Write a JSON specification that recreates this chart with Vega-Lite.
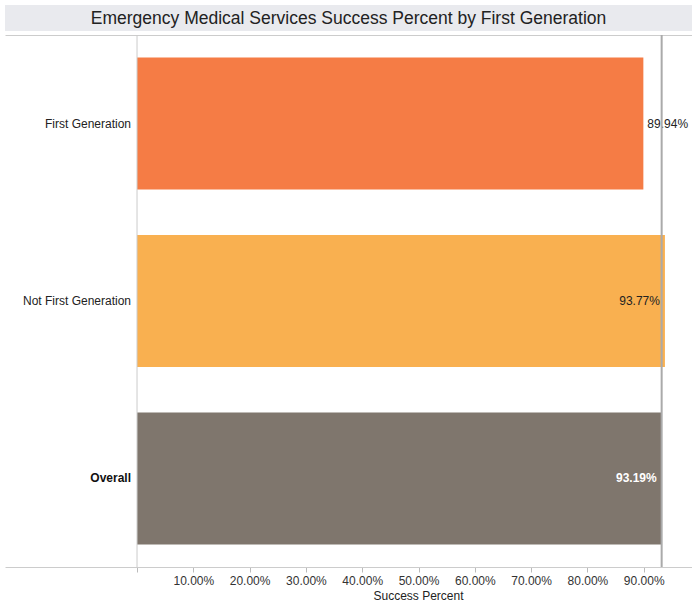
{
  "$schema": "https://vega.github.io/schema/vega-lite/v6.json",
  "config": {"font": "Liberation Sans", "view": {"stroke": null}},
  "datasets": {
    "rows": [
      {"group": "First Generation", "pct": 0.8994},
      {"group": "Not First Generation", "pct": 0.9377},
      {"group": "Overall", "pct": 0.9319}
    ]
  },
  "spacing": 3,
  "vconcat": [
    {
      "width": 687,
      "height": 26,
      "view": {"fill": "#e9eaee", "stroke": null},
      "data": {"values": [{"t": "Emergency Medical Services Success Percent by First Generation"}]},
      "mark": {"type": "text", "fontSize": 17.5, "color": "#222222", "baseline": "middle", "align": "center", "dy": 1},
      "encoding": {
        "x": {"datum": 0.5, "type": "quantitative", "scale": {"domain": [0, 1]}, "axis": null},
        "y": {"datum": 0.5, "type": "quantitative", "scale": {"domain": [0, 1]}, "axis": null},
        "text": {"field": "t"}
      }
    },
    {
      "width": 687,
      "height": 532,
      "data": {"name": "rows"},
      "resolve": {"axis": {"x": "independent"}},
      "layer": [
        {
          "mark": {"type": "bar"},
          "encoding": {
            "y": {"field": "group", "type": "nominal", "sort": null, "axis": null, "scale": {"paddingInner": 0.256, "paddingOuter": 0.127}},
            "x": {
              "field": "pct", "type": "quantitative",
              "scale": {"domain": [-0.2345, 0.9858], "nice": false, "zero": false},
              "axis": {
                "orient": "bottom", "values": [0, 0.1, 0.2, 0.3, 0.4, 0.5, 0.6, 0.7, 0.8, 0.9],
                "labelExpr": "datum.value == 0 ? '' : format(datum.value, '.2%')",
                "grid": false, "domainColor": "#cccccc", "tickColor": "#bbbbbb", "tickSize": 5,
                "labelFontSize": 12, "labelColor": "#333333", "labelPadding": 3,
                "title": "Success Percent", "titleFontSize": 12, "titleFontWeight": "normal", "titleColor": "#222222", "titlePadding": 4,
                "titleX": 413
              }
            },
            "x2": {"datum": 0},
            "color": {
              "field": "group", "type": "nominal", "legend": null,
              "scale": {"domain": ["First Generation", "Not First Generation", "Overall"], "range": ["#f57c45", "#f9b050", "#7f766d"]}
            }
          }
        },
        {
          "data": {"values": [{"z": 0}]},
          "mark": {"type": "rule", "color": "#cccccc", "strokeWidth": 1},
          "encoding": {
            "x": {"field": "z", "type": "quantitative", "axis": {"orient": "top", "domain": true, "domainColor": "#cccccc", "ticks": false, "labels": false, "title": null, "grid": false}}
          }
        },
        {
          "transform": [{"filter": "datum.group == 'First Generation'"}],
          "mark": {"type": "text", "align": "left", "baseline": "middle", "dx": 4, "fontSize": 12, "color": "#222222"},
          "encoding": {
            "y": {"field": "group", "type": "nominal", "sort": null, "axis": null},
            "x": {"field": "pct", "type": "quantitative", "axis": null},
            "text": {"field": "pct", "type": "quantitative", "format": ".2%"}
          }
        },
        {
          "transform": [{"filter": "datum.group == 'Not First Generation'"}],
          "mark": {"type": "text", "align": "right", "baseline": "middle", "dx": -5, "fontSize": 12, "color": "#222222"},
          "encoding": {
            "y": {"field": "group", "type": "nominal", "sort": null, "axis": null},
            "x": {"field": "pct", "type": "quantitative", "axis": null},
            "text": {"field": "pct", "type": "quantitative", "format": ".2%"}
          }
        },
        {
          "transform": [{"filter": "datum.group == 'Overall'"}],
          "mark": {"type": "text", "align": "right", "baseline": "middle", "dx": -5, "fontSize": 12, "fontWeight": "bold", "color": "#ffffff"},
          "encoding": {
            "y": {"field": "group", "type": "nominal", "sort": null, "axis": null},
            "x": {"field": "pct", "type": "quantitative", "axis": null},
            "text": {"field": "pct", "type": "quantitative", "format": ".2%"}
          }
        },
        {
          "transform": [{"filter": "datum.group != 'Overall'"}],
          "mark": {"type": "text", "align": "right", "baseline": "middle", "dx": -6, "fontSize": 12, "color": "#222222"},
          "encoding": {
            "y": {"field": "group", "type": "nominal", "sort": null, "axis": null},
            "x": {"datum": 0, "type": "quantitative", "axis": null},
            "text": {"field": "group"}
          }
        },
        {
          "transform": [{"filter": "datum.group == 'Overall'"}],
          "mark": {"type": "text", "align": "right", "baseline": "middle", "dx": -6, "fontSize": 12, "fontWeight": "bold", "color": "#111111"},
          "encoding": {
            "y": {"field": "group", "type": "nominal", "sort": null, "axis": null},
            "x": {"datum": 0, "type": "quantitative", "axis": null},
            "text": {"field": "group"}
          }
        },
        {
          "transform": [{"filter": "datum.group == 'Overall'"}],
          "mark": {"type": "rule", "color": "#aaaaaa", "strokeWidth": 2},
          "encoding": {
            "x": {"field": "pct", "type": "quantitative", "axis": null}
          }
        }
      ]
    }
  ]
}
